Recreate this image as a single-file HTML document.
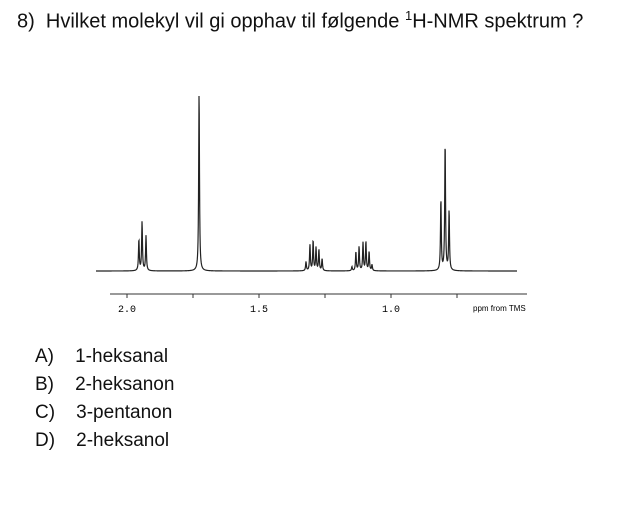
<!DOCTYPE html>
<html><head><meta charset="utf-8"><style>
body{margin:0;width:644px;height:511px;background:#fff;font-family:"Liberation Sans",sans-serif;color:#111;position:relative;overflow:hidden}
.t{position:absolute;font-size:19px;white-space:nowrap}
</style></head><body>
<div class="t" style="left:17px;top:8px;font-size:20px">8)&nbsp; Hvilket molekyl vil gi opphav til følgende <sup style="font-size:13px">1</sup>H-NMR spektrum ?</div>
<svg width="644" height="511" style="position:absolute;left:0;top:0">
<g id="axis"></g>
<path id="spec" fill="none" stroke="#222" stroke-width="1.2"/>
</svg>
<div class="t" style="left:35px;top:346px">A)&nbsp;&nbsp;&nbsp; 1-heksanal</div>
<div class="t" style="left:35px;top:374px">B)&nbsp;&nbsp;&nbsp; 2-heksanon</div>
<div class="t" style="left:35px;top:402px">C)&nbsp;&nbsp;&nbsp; 3-pentanon</div>
<div class="t" style="left:35px;top:430px">D)&nbsp;&nbsp;&nbsp; 2-heksanol</div>
<script>
const peakPpm=[1.955,1.943,1.928, 1.727, 1.322,1.307,1.295,1.284,1.273,1.261, 1.148,1.133,1.121,1.106,1.095,1.083,1.072, 0.811,0.795,0.780];
const peakHeight=[31,49,35, 179, 9,26,30,23,21,12, 4,19,24,28,29,19,6, 71,128,60];
const tickValues=[2.0,1.75,1.5,1.25,1.0,0.75];
const tickLabels=["2.0","","1.5","","1.0",""];
const x=p=>127+(2-p)*264, base=271, w=0.0018;
const ns="http://www.w3.org/2000/svg";
let d="";
for(let px=96;px<=517;px+=0.25){
  const p=2-(px-127)/264;let y=0;
  peakPpm.forEach((c,i)=>{y+=peakHeight[i]/(1+((p-c)/w)**2);});
  d+=(d?"L":"M")+px.toFixed(2)+" "+(base-y).toFixed(2);
}
document.getElementById('spec').setAttribute('d',d);
const g=document.getElementById('axis');
const ln=document.createElementNS(ns,'line');


ln.setAttribute('x1',110);ln.setAttribute('x2',527);ln.setAttribute('y1',294);ln.setAttribute('y2',294);ln.setAttribute('stroke','#333');
g.appendChild(ln);
tickValues.forEach((v,i)=>{
  const t=document.createElementNS(ns,'line');
  
  
  t.setAttribute('x1',x(v));t.setAttribute('x2',x(v));t.setAttribute('y1',294);t.setAttribute('y2',298);t.setAttribute('stroke','#333');
  g.appendChild(t);
  if(tickLabels[i]){
    const tx=document.createElementNS(ns,'text');
    
    
    tx.setAttribute('x',x(v));tx.setAttribute('y',312);tx.setAttribute('text-anchor','middle');
    tx.setAttribute('font-family','Liberation Mono, monospace');tx.setAttribute('font-size','10');
    tx.textContent=tickLabels[i];g.appendChild(tx);
  }
});
const u=document.createElementNS(ns,'text');


u.setAttribute('x',473);u.setAttribute('y',311);u.setAttribute('font-size','8');u.setAttribute('font-family','Liberation Sans, sans-serif');
u.textContent='ppm from TMS';g.appendChild(u);
</script>
</body></html>
